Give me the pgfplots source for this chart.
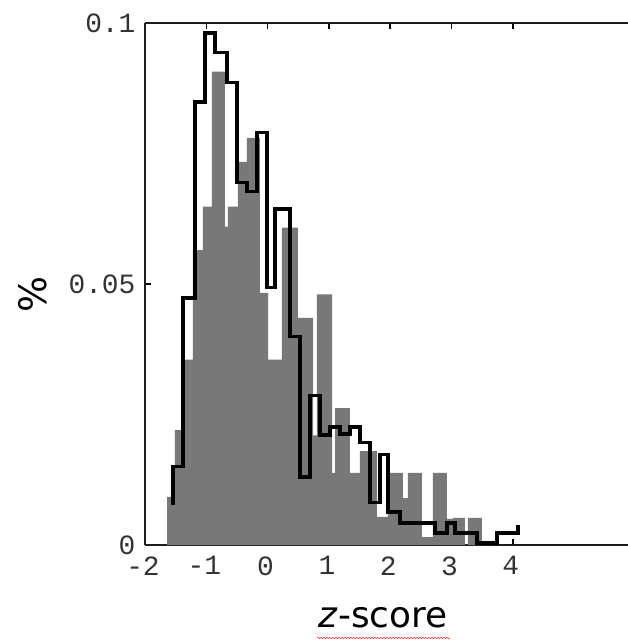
\documentclass[border=0pt]{standalone}
\usepackage{fontspec}
\setmainfont{DejaVu Sans}
\setmonofont{Liberation Mono}
\usepackage{pgfplots}
\usetikzlibrary{decorations.pathmorphing}
\pgfplotsset{compat=1.18}
\definecolor{bargray}{RGB}{120,120,120}
\definecolor{axgray}{RGB}{30,30,30}
\begin{document}
\begin{tikzpicture}
\begin{axis}[
  at={(0,0)}, anchor=south west,
  scale only axis, width=483bp, height=522bp,
  xmin=-2, xmax=5.88, ymin=0, ymax=0.1,
  axis x line*=box, axis y line*=left,
  xtick={-2,-1,0,1,2,3,4},
  xticklabels={-2,-1,0,1,2,3,4},
  ytick={0,0.05,0.1}, yticklabels={0,0.05,0.1},
  xtick pos=both, xticklabel pos=lower, ytick pos=left,
  tick align=inside, major tick length=6bp,
  tick style={line width=1.5bp, color=black},
  axis line style={line width=1.8bp, color=axgray},
  ticklabel style={font=\ttfamily\fontsize{28}{28}\selectfont, text=black!80},
  xticklabel style={anchor=north, yshift=-8bp, xshift=-2bp},
  yticklabel style={anchor=east, xshift=-6bp},
]
\addplot[const plot, fill=bargray, draw=none] coordinates {
(-1.641,0.0092) (-1.511,0.0220) (-1.380,0.0355) (-1.217,0.0565) (-1.054,0.0648)
(-0.907,0.0907) (-0.695,0.0610) (-0.646,0.0648) (-0.483,0.0734) (-0.336,0.0780)
(-0.124,0.0483) (0.007,0.0355) (0.235,0.0608) (0.496,0.0435) (0.741,0.0210)
(0.806,0.0480) (1.051,0.0138) (1.100,0.0262) (1.344,0.0138) (1.507,0.0180)
(1.785,0.0054) (1.964,0.0138) (2.209,0.0090) (2.290,0.0138) (2.519,0.0015)
(2.698,0.0138) (2.927,0.0050) (3.024,0.0052) (3.220,0.0000) (3.269,0.0052)
(3.498,0.0000)
} \closedcycle;
\addplot[const plot, black, line width=3.5bp, line join=miter] coordinates {
(-1.543,0.0077) (-1.543,0.0150) (-1.380,0.0473) (-1.184,0.0849) (-1.021,0.0981)
(-0.858,0.0943) (-0.662,0.0886) (-0.499,0.0694) (-0.336,0.0677) (-0.173,0.0790)
(-0.010,0.0493) (0.121,0.0644) (0.365,0.0399) (0.529,0.0130) (0.692,0.0286)
(0.855,0.0211) (1.018,0.0226) (1.181,0.0213) (1.344,0.0226) (1.507,0.0196)
(1.670,0.0081) (1.834,0.0173) (1.964,0.0063) (2.160,0.0042) (2.731,0.0023)
(2.927,0.0042) (3.057,0.0023) (3.416,0.0004) (3.742,0.0023) (4.085,0.0038)
};
\end{axis}
\node[rotate=90, font=\fontsize{38}{38}\selectfont] at (-112bp,250bp) {\%};
\node[font=\fontsize{36}{36}\selectfont] at (238bp,-73bp) {\textit{z}-score};
\draw[red!75, line width=0.6bp, decorate, decoration={snake, amplitude=0.8bp, segment length=3bp}] (172bp,-93bp) -- (305bp,-93bp);
\pgfresetboundingbox
\useasboundingbox (-145bp,-96bp) rectangle (483bp,545bp);
\end{tikzpicture}
\end{document}
